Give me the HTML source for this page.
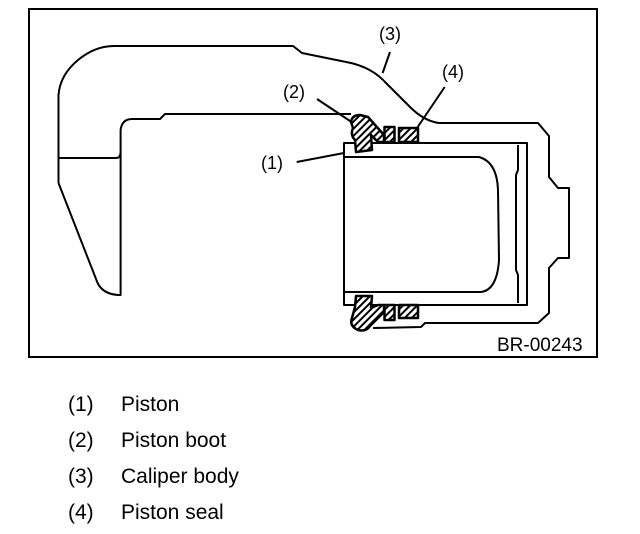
<!DOCTYPE html>
<html><head><meta charset="utf-8"><style>
html,body{margin:0;padding:0;background:#fff;}
svg{display:block;}
text{font-family:"Liberation Sans",Arial,sans-serif;fill:#000;}
</style></head><body>
<svg width="640" height="534" viewBox="0 0 640 534" xmlns="http://www.w3.org/2000/svg">
<defs>
<pattern id="h" width="5" height="5" patternUnits="userSpaceOnUse" patternTransform="rotate(45)">
<rect width="5" height="5" fill="#fff"/><rect width="2" height="5" fill="#000"/>
</pattern>
</defs>
<rect x="29" y="9" width="568" height="348" fill="none" stroke="#000" stroke-width="2"/>
<g fill="none" stroke="#000" stroke-width="2" stroke-linejoin="round">
<path d="M58.5,183 L58.5,95 Q60,75 78,60 Q95,46 114,46 L293,46 L302,53 L351,63 Q372,68 385,82 L410,107 Q424,121 439,123 L538,123 L549,136 L549,177 L558,188 L569,188 L569,258 L558,258 L549,268 L549,313 L538,323 L425,323 L421,327 L373,328"/>
<path d="M58.5,183 L97.6,283 Q103,294 118,295 L120.6,295 L120.6,130 Q122,119 132,119 L160,119 L165,114 L351,114"/>
<path d="M58.5,158 L116,158 Q120.6,158 120.6,152"/>
<rect x="344" y="143" width="183" height="162"/>
<path d="M344,157 L479,157 Q497,162 498,190 L499,260 Q497,290 481,292 L344,292"/>
<path d="M518,145 L518,170 L516,175 L516,270 L518,275 L518,303"/>
<path d="M390,52 L382.6,73"/>
<path d="M444.7,87 L417,128"/>
<path d="M317,99 L351.5,122"/>
<path d="M296.7,162 L344,153"/>
</g>
<g stroke="#000" stroke-width="2.5" fill="url(#h)" stroke-linejoin="round">
<rect x="399" y="128" width="19" height="14"/>
<rect x="384.5" y="127" width="10" height="15"/>
<path d="M351,122 Q352,115 360,115 L368,117 L384,135 L384,142 L378,142 L371,135 L372,150 L356,152 L355,140 Q350,135 353,128 Z"/>
<rect x="399" y="305" width="19" height="13"/>
<rect x="384.5" y="305" width="10" height="15"/>
<path d="M356,296 L372,296 L371,308 L378,305 L384,305 L384,312 L370,326 Q366,332 358,330 Q349,326 352,318 L355,307 Z"/>
</g>
<g font-size="18">
<text x="379" y="40">(3)</text>
<text x="442" y="78">(4)</text>
<text x="283" y="98">(2)</text>
<text x="261" y="169">(1)</text>
</g>
<text x="497" y="351" font-size="19">BR-00243</text>
<g font-size="21">
<text x="68" y="411">(1)</text><text x="121" y="411">Piston</text>
<text x="68" y="447">(2)</text><text x="121" y="447">Piston boot</text>
<text x="68" y="483">(3)</text><text x="121" y="483">Caliper body</text>
<text x="68" y="519">(4)</text><text x="121" y="519">Piston seal</text>
</g>
</svg>
</body></html>
